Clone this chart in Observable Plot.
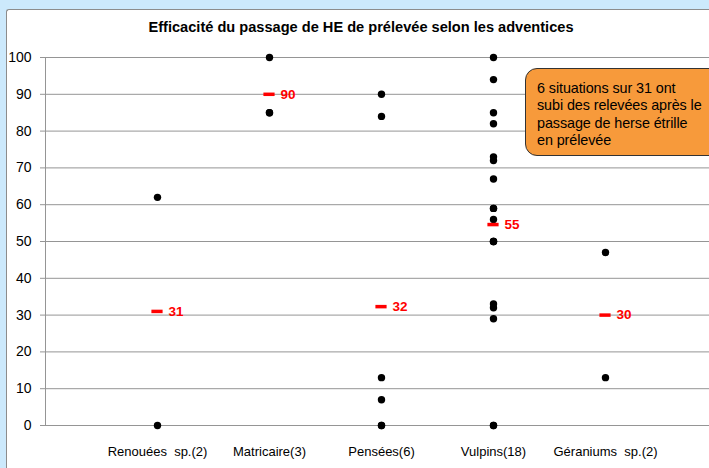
<!DOCTYPE html>
<html><head><meta charset="utf-8">
<script src="https://cdn.jsdelivr.net/npm/d3@7"></script>
<script src="https://cdn.jsdelivr.net/npm/@observablehq/plot@0.6"></script>
<style>
html,body{margin:0;padding:0;width:709px;height:468px;overflow:hidden;background:#cce9fc;font-family:"Liberation Sans",Arial,sans-serif;}
#frame{position:absolute;left:6px;top:9px;width:720px;height:480px;background:#fff;border-left:1px solid #8c8c8c;border-top:1px solid #8c8c8c;border-top-left-radius:3px;}
#chart{position:absolute;left:0;top:0;}
#title{position:absolute;left:0;width:722px;top:19px;text-align:center;font-weight:bold;font-size:14.6px;color:#000;}
#note{position:absolute;left:525px;top:68px;width:200px;height:75px;padding:11px 0 0 11px;background:#f79a3b;border:1px solid #333;border-radius:12px;font-size:14.4px;line-height:17.3px;color:#000;white-space:nowrap;letter-spacing:-0.1px;}
</style></head>
<body>
<div id="frame"></div>
<div id="title">Efficacité du passage de HE de prélevée selon les adventices</div>
<div id="chart"></div>
<div id="note">6 situations sur 31 ont<br>subi des relevées après le<br>passage de herse étrille<br>en prélevée</div>
<script>
const categories = ["Renouées  sp.(2)", "Matricaire(3)", "Pensées(6)", "Vulpins(18)", "Géraniums  sp.(2)"];
const renouees = [62, 0];
const matricaire = [100, 85, 85];
const pensees = [90, 84, 13, 7, 0, 0];
const vulpins = [100, 94, 85, 82, 73, 72, 67, 59, 59, 56, 50, 50, 50, 33, 32, 29, 0, 0];
const geraniums = [47, 13];
const means = [31, 90, 32.3, 54.6, 30];
const meanLabels = ["31", "90", "32", "55", "30"];
const yTicks = [0, 10, 20, 30, 40, 50, 60, 70, 80, 90, 100];

const series = [renouees, matricaire, pensees, vulpins, geraniums];
const points = series.flatMap((vals, i) => vals.map(v => ({x: i + 1, y: v})));
const meanData = means.map((m, i) => ({x: i + 1, y: m, label: meanLabels[i]}));

const chart = Plot.plot({
  width: 709,
  height: 468,
  marginTop: 57,
  marginBottom: 43,
  marginLeft: 45,
  marginRight: 0,
  style: {background: "transparent", fontFamily: "'Liberation Sans', Arial, sans-serif", overflow: "hidden"},
  x: {domain: [0, 6], range: [45, 717]},
  y: {domain: [0, 100]},
  marks: [
    Plot.gridY(yTicks, {stroke: "#959595", strokeOpacity: 1}),
    Plot.ruleX([0], {stroke: "#959595"}),
    Plot.axisY({ticks: yTicks, tickSize: 5, tickPadding: 9, stroke: "#959595", fill: "#000", fontSize: 14, label: null}),
    Plot.axisX({ticks: [1, 2, 3, 4, 5], tickFormat: i => categories[i - 1], tickSize: 0, tickPadding: 21, fontSize: 13, fill: "#000", label: null}),
    Plot.dot(points, {x: "x", y: "y", r: 3.7, fill: "#000", stroke: "none"}),
    Plot.ruleY(meanData, {y: "y", x1: d => d.x - 0.05, x2: d => d.x + 0.05, stroke: "#ff0000", strokeWidth: 3.5}),
    Plot.text(meanData, {x: "x", y: "y", text: "label", dx: 11, textAnchor: "start", fill: "#ff0000", fontWeight: "bold", fontSize: 13.5})
  ]
});
document.getElementById("chart").appendChild(chart);
</script>
</body></html>
